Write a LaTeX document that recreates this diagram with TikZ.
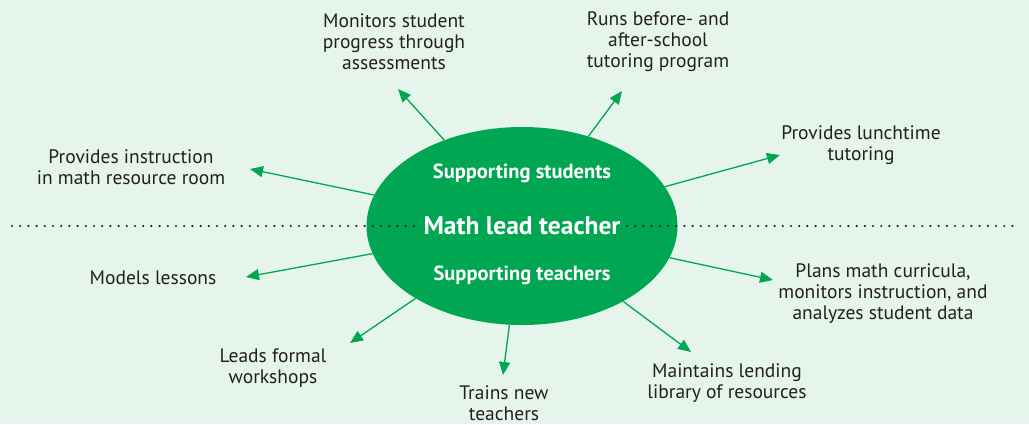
\documentclass[tikz,border=0pt]{standalone}
\usepackage{fontspec}
\setmainfont{PT Sans}
\usetikzlibrary{shapes.geometric,arrows.meta}
\definecolor{leadgreen}{HTML}{00A651}
\definecolor{paleback}{HTML}{E6F5EC}
\definecolor{inkgray}{HTML}{231F20}
\begin{document}
\begin{tikzpicture}[x=1pt,y=-1pt,>={Triangle[length=13pt,width=11pt]}]
        \tikzstyle{duty}=[align=center,text=inkgray,inner sep=0pt,font=\fontsize{19.5}{21}\selectfont]
        \tikzstyle{spoke}=[->,draw=leadgreen,fill=leadgreen,line width=1.3pt]
        \tikzstyle{role}=[text=white,font=\bfseries\fontsize{20.5}{24}\selectfont]
        \fill[paleback] (0,0) rectangle (1029,424);
        \useasboundingbox (0,0) rectangle (1029,424);

        \node[ellipse,fill=leadgreen,minimum width=311pt,minimum height=198pt,inner sep=0pt] (lead) at (522,226) {};
        \draw[inkgray,line width=2.4pt,line cap=round,dash pattern=on 0pt off 8.2pt] (12,226) -- (1020,226);
        \node[text=white,fill=leadgreen,inner xsep=6pt,inner ysep=2pt,font=\bfseries\fontsize{25.5}{28}\selectfont] (title) at (lead.center) {Math lead teacher};
        \node[role] (students) at (522,173) {Supporting students};
        \node[role] (teachers) at (522,275) {Supporting teachers};

        \foreach \id/\x/\y/\txt in {mon/394/42/{Monitors student\\progress through\\assessments},
                run/658/42/{Runs before- and\\after-school\\tutoring program},
                lunch/861/145.5/{Provides lunchtime\\tutoring},
                plan/883/294/{Plans math curricula,\\monitors instruction, and\\analyzes student data},
                lend/727/383.5/{Maintains lending\\library of resources},
                train/504/403/{Trains new\\teachers},
                shop/273/368/{Leads formal\\workshops},
                model/153/278/{Models lessons},
                room/131/167.5/{Provides instruction\\in math resource room}}
            \node[duty] (D-\id) at (\x,\y) {\txt};

        \foreach \id/\x/\y in {mon/398/89, run/622/91, lunch/780/155, plan/773/280, lend/691/352,
                train/503/375, shop/350/343, model/246/277, room/250/169}
            \coordinate (T-\id) at (\x,\y);

        \foreach \id in {mon, run, lunch, plan, lend, train, shop, model, room}
            \draw[spoke] (lead) -- (T-\id);
\end{tikzpicture}
\end{document}
